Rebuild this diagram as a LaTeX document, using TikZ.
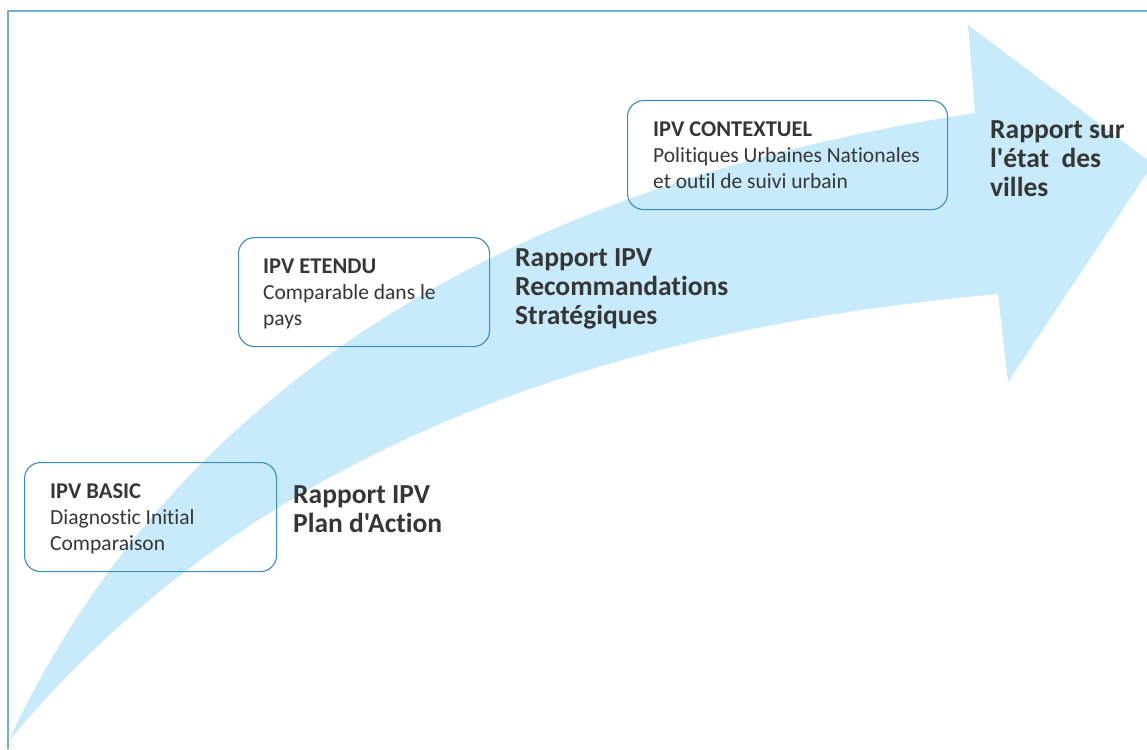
\documentclass[tikz,border=0pt]{standalone}
\usepackage{fontspec}
\newfontfamily\carlito{Carlito}[Ligatures=NoCommon]
\definecolor{arrowblue}{HTML}{C8EBFB}
\definecolor{boxline}{HTML}{3A8DBF}
\definecolor{frameline}{HTML}{74B1CF}
\definecolor{txt}{HTML}{363636}
\tikzset{
  stagebox/.style={draw=boxline, line width=1.1pt, rounded corners=16pt, minimum width=#1, anchor=north west, inner sep=0pt, minimum height=109pt},
  boxtext/.style={anchor=base west, inner sep=0pt, text=txt, font=\carlito\fontsize{21.5}{26}\selectfont},
  reporttext/.style={anchor=base west, inner sep=0pt, text=txt, font=\carlito\fontsize{27.5}{29}\selectfont\bfseries},
}
\newcommand{\boxtitle}[1]{{\fontsize{22.5}{26}\selectfont\bfseries #1}}
\begin{document}
\begin{tikzpicture}[x=1pt,y=-1pt]
\useasboundingbox (0,0) rectangle (1147,749);
\begin{scope}
\clip (0,0) rectangle (1147,749);
\fill[arrowblue] (8,742) .. controls (200,330) and (600,170) .. (975,113)
  -- (968,25) -- (1153,164) -- (1008,382) -- (998,294)
  .. controls (600,330) and (250,450) .. (8,742) -- cycle;
\end{scope}
\draw[frameline, line width=2pt] (8,749) -- (8,11) -- (1147,11);

\node[stagebox=252pt] (basic) at (24,462) {};
\node[stagebox=251pt] (etendu) at (238,237) {};
\node[stagebox=320pt] (context) at (627,100) {};

\node[boxtext] (basicT) at (50,498) {\begin{tabular}[t]{@{}l@{}}\boxtitle{IPV BASIC}\\Diagnostic Initial\\Comparaison\end{tabular}};
\node[boxtext] (etenduT) at (263,273) {\begin{tabular}[t]{@{}l@{}}\boxtitle{IPV ETENDU}\\Comparable dans le\\pays\end{tabular}};
\node[boxtext] (contextT) at (653,136) {\begin{tabular}[t]{@{}l@{}}\boxtitle{IPV CONTEXTUEL}\\Politiques Urbaines Nationales\\et outil de suivi urbain\end{tabular}};

\node[reporttext] (r1) at (293,503) {\begin{tabular}[t]{@{}l@{}}Rapport IPV\\Plan d'Action\end{tabular}};
\node[reporttext] (r2) at (515,266) {\begin{tabular}[t]{@{}l@{}}Rapport IPV\\Recommandations\\Stratégiques\end{tabular}};
\node[reporttext] (r3) at (990,138) {\begin{tabular}[t]{@{}l@{}}Rapport sur\\l'état~ des\\villes\end{tabular}};
\end{tikzpicture}
\end{document}
